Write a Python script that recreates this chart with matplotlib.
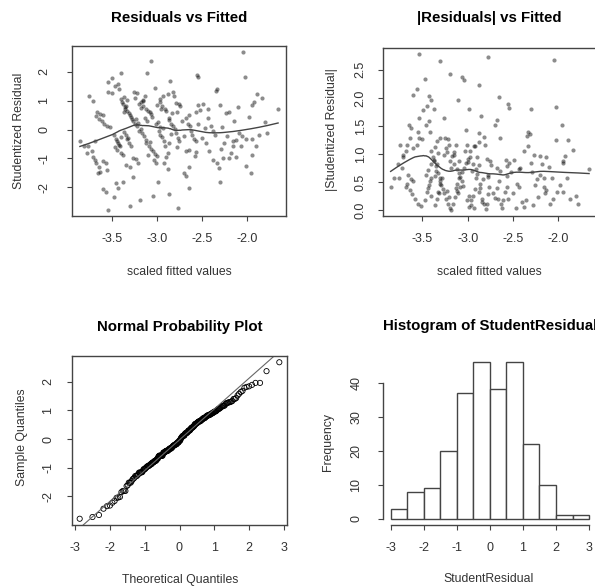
import numpy as np
import matplotlib
matplotlib.use("Agg")
import matplotlib.pyplot as plt
from statistics import NormalDist

plt.rcParams['font.family'] = ['Liberation Sans', 'DejaVu Sans']
plt.rcParams['axes.unicode_minus'] = False

# fitted values and studentized residuals
fitted = [
	-2.05, -3.06,
	-3.40, -3.11, -3.49, -3.54, -3.43, -2.56, -2.54, -2.85, -2.03, -3.46,
	-3.42, -3.54, -3.50, -3.25, -3.22, -3.02, -2.93, -2.82, -2.81, -2.33, -1.89,
	-1.84, -3.75, -3.13, -3.40, -3.36, -3.24, -3.33, -3.15, -2.97, -2.88, -2.35,
	-3.71, -3.15, -3.37, -3.34, -3.35, -3.36, -3.17, -3.15, -3.12, -2.97, -2.94,
	-2.91, -2.90, -2.79, -2.75, -2.74, -2.54, -2.49, -2.43, -2.30, -2.10, -1.95,
	-1.66, -2.57, -2.24, -3.06, -3.66, -3.63, -3.60, -3.38, -3.35, -3.33, -3.31,
	-3.30, -3.20, -3.18, -3.10, -3.08, -3.00, -2.95, -2.83, -2.78, -2.65, -2.52,
	-2.20, -1.93,
	-3.67, -3.64, -3.61, -3.58, -3.55, -3.05, -2.43, -2.40, -3.23, -3.21, -3.01,
	-2.84, -2.82, -2.80, -2.66, -2.63, -3.18, -3.52, -3.29, -3.27, -3.26, -3.24,
	-3.22, -3.13, -3.11, -2.99, -2.96, -2.93, -2.86, -2.87, -2.72, -2.68, -2.55,
	-2.47, -2.28, -2.15, -1.98, -1.80,
	-2.38, -2.36, -2.09, -2.06, -2.01, -1.78, -2.22, -2.16, -2.13, -1.95, -3.16,
	-3.14, -3.12, -2.98, -2.96, -2.94, -2.79, -2.77, -2.76, -2.61, -2.59, -2.57,
	-3.47, -3.45, -3.85, -3.12, -2.86, -2.46, -3.33, -3.31, -3.68, -3.44, -3.43,
	-3.40, -3.36, -3.34, -3.32, -3.20, -3.08, -2.92, -2.84, -2.70, -2.62, -2.50,
	-2.26, -1.87,
	-3.42, -3.41, -3.81, -3.77, -3.09, -3.06, -3.04, -3.10, -2.91, -2.88, -2.90,
	-2.68, -2.64, -2.57, -2.29, -2.16, -2.18, -2.07, -1.90, -1.95, -2.27, -2.20,
	-2.13, -3.28, -3.40, -3.37, -3.26, -3.71, -3.76, -3.72, -3.46, -3.44, -3.02,
	-3.00, -2.78, -2.58, -2.42,
	-2.38, -2.33, -3.23, -3.21, -3.34, -3.30, -3.03, -3.01, -2.92, -2.64, -2.31,
	-3.68, -3.67, -3.64, -3.63, -3.56, -3.55, -3.60, -2.88, -2.02,
	-2.70, -2.68, -3.65, -3.26, -3.37, -2.99, -2.30, -1.96, -3.45,
	-3.60, -3.56, -3.47, -3.19, -3.04, -2.87, -2.65, -3.43,
	-3.30, -3.54, -2.77,
]
resid = [
	2.68, 2.37,
	1.96, 1.96, 1.79, 1.64, 1.58, 1.89, 1.82, 1.68, 1.84, 1.52,
	1.40, 1.29, 1.27, 1.29, 1.26, 1.43, 1.15, 1.31, 1.17, 1.40, 1.25,
	1.08, 1.16, 1.16, 1.05, 1.12, 1.10, 1.02, 1.04, 1.06, 1.22, 1.33,
	0.98, 0.99, 0.90, 0.82, 0.70, 0.61, 0.96, 0.82, 0.73, 0.94, 0.82,
	0.73, 0.64, 0.91, 0.88, 0.80, 0.84, 0.90, 0.73, 0.84, 0.77, 0.84,
	0.73, 0.61, 0.56, 0.53, 0.62, 0.55, 0.52, 0.95, 0.78, 0.66, 0.58,
	0.52, 0.88, 0.76, 0.66, 0.60, 0.86, 0.70, 0.56, 0.62, 0.52, 0.68,
	0.62, 0.96,
	0.47, 0.37, 0.29, 0.21, 0.12, 0.44, 0.41, 0.14, 0.35, 0.23, 0.18,
	0.21, 0.12, 0.02, 0.21, 0.12, 0.01, 0.08, 0.45, 0.38, 0.30, 0.20,
	0.12, 0.40, 0.30, 0.25, 0.10, 0.05, 0.40, 0.32, 0.30, 0.40, 0.20,
	0.05, 0.10, 0.30, 0.45, 0.25,
	-0.06, -0.18, -0.12, -0.21, -0.33, -0.12, -0.23, -0.41, -0.37, -0.33, -0.12,
	-0.23, -0.35, -0.06, -0.18, -0.26, -0.12, -0.29, -0.41, -0.18, -0.33, -0.41,
	-0.18, -0.33, -0.41, -0.47, -0.47, -0.47, -0.33, -0.47, -0.41, -0.40, -0.45,
	-0.25, -0.10, -0.20, -0.30, -0.05, -0.42, -0.38, -0.15, -0.22, -0.05, -0.30,
	-0.45, -0.20,
	-0.52, -0.58, -0.58, -0.82, -0.58, -0.68, -0.76, -0.88, -0.58, -0.80, -0.94,
	-0.76, -0.70, -0.78, -0.68, -0.58, -0.82, -0.58, -0.58, -0.88, -0.99, -0.97,
	-0.94, -0.58, -0.82, -0.88, -0.98, -0.94, -0.58, -0.76, -0.62, -0.72, -0.84,
	-0.92, -0.60, -0.90, -0.75,
	-1.05, -1.15, -1.03, -1.17, -1.23, -1.29, -1.05, -1.17, -1.15, -1.29, -1.35,
	-1.05, -1.17, -1.29, -1.46, -1.17, -1.40, -1.10, -1.38, -1.25,
	-1.52, -1.61, -1.52, -1.64, -1.81, -1.81, -1.81, -1.52, -1.85,
	-2.05, -2.16, -2.34, -2.43, -2.32, -2.22, -2.02, -2.04,
	-2.65, -2.78, -2.72,
]
hist_breaks = [-3, -2.5, -2, -1.5, -1, -0.5, 0, 0.5, 1, 1.5, 2, 2.5, 3]

W, H = 595, 586
GRAY = '#444444'
TXT = '#333333'

def box(l, t, r, b):
	return [l/W, 1-b/H, (r-l)/W, (b-t)/H]

def put(x, y, s, **kw):
	fig.text(x/W, 1-y/H, s, ha='center', va='center', **kw)

def lowess(x, y, f=2/3, iters=3):
	o = np.argsort(x)
	x = np.asarray(x, float)[o]; y = np.asarray(y, float)[o]
	n = len(x)
	r = int(np.ceil(f*n))
	h = np.array([np.sort(np.abs(x - x[i]))[r] for i in range(n)])
	w = np.clip(np.abs((x[:, None] - x[None, :]) / h), 0.0, 1.0)
	w = (1 - w**3)**3
	yest = np.zeros(n)
	delta = np.ones(n)
	for it in range(iters):
		for i in range(n):
			wt = delta * w[:, i]
			A = np.array([[wt.sum(), (wt*x).sum()], [(wt*x).sum(), (wt*x*x).sum()]])
			b = np.array([(wt*y).sum(), (wt*y*x).sum()])
			beta = np.linalg.lstsq(A, b, rcond=None)[0]
			yest[i] = beta[0] + beta[1]*x[i]
		res = y - yest
		s = np.median(np.abs(res))
		d = np.clip(res/(6.0*s), -1, 1)
		delta = (1 - d**2)**2
	return x, yest

def style(ax, xpad, ypad):
	ax.tick_params(length=3.5, width=0.8, color=GRAY, labelsize=9, labelcolor=TXT)
	ax.tick_params(axis='x', pad=xpad)
	ax.tick_params(axis='y', pad=ypad, labelrotation=90)
	plt.setp(ax.get_yticklabels(), va='center')
	for sp in ax.spines.values():
		sp.set_color(GRAY)
		sp.set_linewidth(1.0)

fig = plt.figure(figsize=(W/100, H/100), dpi=100)
fitted_a = np.array(fitted)
resid_a = np.array(resid)

# residuals vs fitted
ax1 = fig.add_axes(box(72, 46, 286, 216))
ax1.scatter(fitted_a, resid_a, s=9, color='black', alpha=0.45, linewidths=0)
lx, ly = lowess(fitted_a, resid_a, f=0.35)
ax1.plot(lx, ly, color='#444444', lw=1.0)
ax1.margins(0.04)
ax1.set_xticks([-3.5, -3.0, -2.5, -2.0])
ax1.set_yticks([-2, -1, 0, 1, 2])
style(ax1, 9, 12)
put(179, 18, 'Residuals vs Fitted', fontsize=10.8, fontweight='bold')
put(179, 272, 'scaled fitted values', fontsize=8.8, color=TXT)
put(19, 131, 'Studentized Residual', fontsize=8.8, color=TXT, rotation=90)

# |residuals| vs fitted
ax2 = fig.add_axes(box(382.7, 47.7, 597, 216))
ax2.scatter(fitted_a, np.abs(resid_a), s=9, color='black', alpha=0.45, linewidths=0)
lx, ly = lowess(fitted_a, np.abs(resid_a), f=0.3)
ax2.plot(lx, ly, color='#444444', lw=1.0)
ax2.margins(0.04)
ax2.set_xticks([-3.5, -3.0, -2.5, -2.0])
ax2.set_yticks([0, 0.5, 1.0, 1.5, 2.0, 2.5])
ax2.set_yticklabels(['0.0', '0.5', '1.0', '1.5', '2.0', '2.5'])
style(ax2, 9, 8)
put(489, 18, '|Residuals| vs Fitted', fontsize=10.8, fontweight='bold')
put(489, 272, 'scaled fitted values', fontsize=8.8, color=TXT)
put(331.7, 130, '|Studentized Residual|', fontsize=8.8, color=TXT, rotation=90)

# normal probability plot
n = len(resid)
nd = NormalDist()
theo = np.array([nd.inv_cdf((i - 0.5)/n) for i in range(1, n+1)])
samp = np.sort(resid_a)
ax3 = fig.add_axes(box(71.7, 356, 287.3, 525))
ax3.scatter(theo, samp, s=14, facecolors='none', edgecolors='black', linewidths=0.6)
q1, q3 = np.percentile(samp, [25, 75])
slope = (q3 - q1)/(nd.inv_cdf(0.75) - nd.inv_cdf(0.25))
icpt = q1 - slope*nd.inv_cdf(0.25)
ax3.margins(0.04)
ax3.axline((0, icpt), slope=slope, color='#666666', lw=0.8)
ax3.set_xticks([-3, -2, -1, 0, 1, 2, 3])
ax3.set_yticks([-2, -1, 0, 1, 2])
style(ax3, 9, 9)
put(180, 326.7, 'Normal Probability Plot', fontsize=10.8, fontweight='bold')
put(180, 580, 'Theoretical Quantiles', fontsize=8.8, color=TXT)
put(21.7, 436.7, 'Sample Quantiles', fontsize=8.8, color=TXT, rotation=90)

# histogram
ax4 = fig.add_axes(box(382.7, 356, 597, 525))
ax4.hist(resid_a, bins=hist_breaks, facecolor='white', edgecolor=GRAY, linewidth=1.0)
ax4.set_xlim(-3.24, 3.24)
ax4.set_ylim(-1.84, 47.84)
ax4.set_xticks([-3, -2, -1, 0, 1, 2, 3])
ax4.set_yticks([0, 10, 20, 30, 40])
style(ax4, 9, 11)
ax4.spines['top'].set_visible(False)
ax4.spines['right'].set_visible(False)
ax4.spines['left'].set_bounds(0, 40)
ax4.spines['bottom'].set_bounds(-3, 3)
put(490, 326, 'Histogram of StudentResidual', fontsize=10.8, fontweight='bold')
put(489, 579.3, 'StudentResidual', fontsize=8.8, color=TXT)
put(328.3, 441.7, 'Frequency', fontsize=8.8, color=TXT, rotation=90)

fig.savefig('out.png', dpi=100, facecolor='white')
